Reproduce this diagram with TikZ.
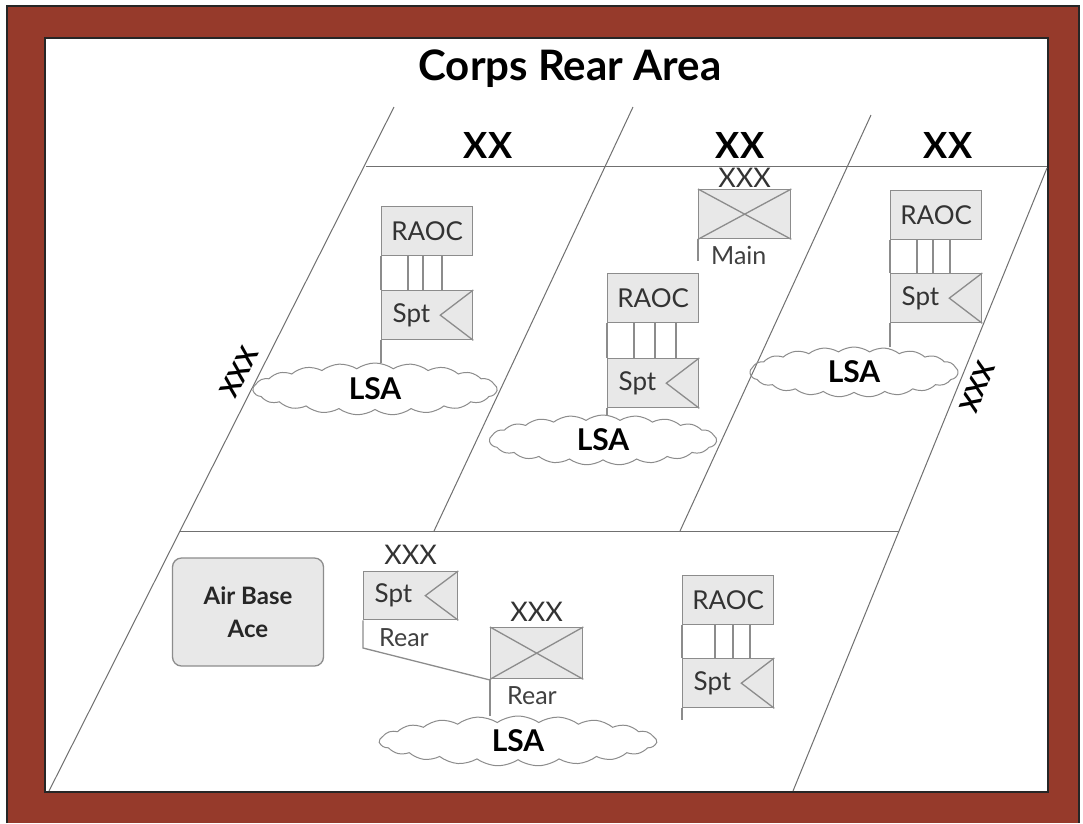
\documentclass[tikz,border=0pt]{standalone}
\usepackage{fontspec}
\setmainfont{Lato}
\usetikzlibrary{shapes.symbols, positioning, calc}

\definecolor{framebrown}{HTML}{963A2B}
\definecolor{boxfill}{HTML}{E8E8E8}
\definecolor{boxline}{HTML}{8C8C8C}
\definecolor{zoneline}{HTML}{707070}

\begin{document}
\begin{tikzpicture}[
    x=1pt, y=-1pt,
    zone/.style={draw=zoneline, line width=1pt},
    boxedge/.style={draw=boxline, line width=1.3pt},
    unitbox/.style={rectangle, draw=boxline, fill=boxfill, line width=1.3pt, minimum width=91pt, minimum height=49pt, inner sep=0pt, anchor=north west, font=\fontsize{26}{28}\selectfont, text=black!80},
    sptbox/.style={unitbox, text width=69pt, inner xsep=11pt, align=left},
    hqbox/.style={unitbox, minimum width=92pt},
    unittext/.style={inner sep=0pt, font=\fontsize{25}{27}\selectfont, text=black!75},
    echelon/.style={inner sep=0pt, font=\fontsize{27}{29}\selectfont, text=black!80},
    titletext/.style={inner sep=0pt, font=\fontsize{42}{46}\bfseries\selectfont},
    divtext/.style={inner sep=0pt, font=\fontsize{36}{40}\bfseries\selectfont},
    corpstext/.style={inner sep=0pt, font=\fontsize{26}{28}\bfseries\selectfont},
    lsacloud/.style={cloud, cloud puffs=21, cloud puff arc=70, cloud ignores aspect, draw=boxline, line width=1pt, inner sep=0pt, font=\fontsize{30}{32}\bfseries\selectfont},
    airbase/.style={rectangle, draw=boxline, fill=boxfill, line width=1.3pt, rounded corners=9pt, minimum width=151pt, minimum height=108pt, align=center, font=\fontsize{24}{33}\bfseries\selectfont, text=black!85}
  ]

  % ============ FRAME ============
  \useasboundingbox (0,0) rectangle (1083,823);
  \fill[white] (0,0) rectangle (1083,823);
  \fill[framebrown] (7,6) rectangle (1079,823);
  \draw[black!85, line width=1.5pt] (7,823) -- (7,6) -- (1079,6) -- (1079,823);
  \draw[black!85, fill=white, line width=2pt] (45,38) rectangle (1048,792);

  \node[titletext, anchor=base] (title) at (570,80) {Corps Rear Area};

  % ============ ZONES ============
  \coordinate (l1top) at (394,107);
  \coordinate (l1mid) at (180,531);
  \coordinate (l1bot) at (49,791);
  \coordinate (l2top) at (633,107);
  \coordinate (l2bot) at (434,531);
  \coordinate (l3top) at (871,115);
  \coordinate (l3bot) at (680,531);
  \coordinate (l4top) at (1047,168);
  \coordinate (l4mid) at (899,531);
  \coordinate (l4bot) at (793,791);
  \coordinate (h1left) at (366,166);
  \coordinate (h1right) at (1047,166);

  \draw[zone] (l1top) -- (l1mid) -- (l1bot);
  \draw[zone] (l2top) -- (l2bot);
  \draw[zone] (l3top) -- (l3bot);
  \draw[zone] (l4top) -- (l4mid) -- (l4bot);
  \draw[zone] (h1left) -- (h1right);
  \draw[zone] (l1mid) -- (l4mid);

  % Echelon labels on the boundaries
  \node[divtext, anchor=base] (xx1) at (488,158) {XX};
  \node[divtext, anchor=base] (xx2) at (740,158) {XX};
  \node[divtext, anchor=base] (xx3) at (948,158) {XX};
  \node[corpstext, rotate=63] (xxxleft) at (239,372) {XXX};
  \node[corpstext, rotate=-112] (xxxright) at (977,387) {XXX};

  % ============ LEFT DIVISION ============
  \node[unitbox] (raoc1) at (381,206) {RAOC};
  \node[sptbox] (spt1) at (381,290) {Spt};
  \draw[boxedge] (raoc1.south west) -- (spt1.north west)
    ($(raoc1.south west)+(27,0)$) -- ($(spt1.north west)+(27,0)$)
    ($(raoc1.south west)+(42,0)$) -- ($(spt1.north west)+(42,0)$)
    ($(raoc1.south west)+(61,0)$) -- ($(spt1.north west)+(61,0)$);
  \draw[boxedge] (spt1.north east) -- ($(spt1.east)+(-33,0)$) -- (spt1.south east);
  \node[lsacloud, minimum width=244pt, minimum height=52pt] (lsa1) at (375,389) {LSA};
  \draw[boxedge] (spt1.south west) -- (spt1.south west |- lsa1.north);

  % ============ CENTER DIVISION ============
  \node[hqbox] (main) at (698,189) {};
  \draw[boxedge] (main.north west) -- (main.south east) (main.north east) -- (main.south west);
  \node[echelon, above=1pt of main] (mainxxx) {XXX};
  \coordinate (mainstaff) at (698,261);
  \draw[boxedge] (main.south west) -- (mainstaff);
  \node[unittext, below right=7pt and 13pt of main.south west] (mainlbl) {Main};

  \node[unitbox] (raoc2) at (607,273) {RAOC};
  \node[sptbox] (spt2) at (607,358) {Spt};
  \draw[boxedge] (raoc2.south west) -- (spt2.north west)
    ($(raoc2.south west)+(27,0)$) -- ($(spt2.north west)+(27,0)$)
    ($(raoc2.south west)+(48,0)$) -- ($(spt2.north west)+(48,0)$)
    ($(raoc2.south west)+(69,0)$) -- ($(spt2.north west)+(69,0)$);
  \draw[boxedge] (spt2.north east) -- ($(spt2.east)+(-33,0)$) -- (spt2.south east);
  \node[lsacloud, minimum width=227pt, minimum height=50pt] (lsa2) at (603,440) {LSA};
  \draw[boxedge] (spt2.south west) -- (spt2.south west |- lsa2.north);

  % ============ RIGHT DIVISION ============
  \node[unitbox] (raoc3) at (890,190) {RAOC};
  \node[sptbox] (spt3) at (890,273) {Spt};
  \draw[boxedge] (raoc3.south west) -- (spt3.north west)
    ($(raoc3.south west)+(27,0)$) -- ($(spt3.north west)+(27,0)$)
    ($(raoc3.south west)+(43,0)$) -- ($(spt3.north west)+(43,0)$)
    ($(raoc3.south west)+(60,0)$) -- ($(spt3.north west)+(60,0)$);
  \draw[boxedge] (spt3.north east) -- ($(spt3.east)+(-33,0)$) -- (spt3.south east);
  \node[lsacloud, minimum width=208pt, minimum height=50pt] (lsa3) at (854,372) {LSA};
  \draw[boxedge] (spt3.south west) -- (spt3.south west |- lsa3.north);

  % ============ CORPS REAR ============
  \node[airbase] (air) at (248,612) {Air Base\\Ace};

  \node[sptbox, minimum width=94pt, minimum height=48pt, text width=72pt] (sptrear) at (363,571) {Spt};
  \draw[boxedge] (sptrear.north east) -- ($(sptrear.east)+(-33,0)$) -- (sptrear.south east);
  \node[echelon, above=6pt of sptrear] (sptxxx) {XXX};
  \node[unittext, below right=8pt and 16pt of sptrear.south west] (sptrearlbl) {Rear};

  \node[hqbox, minimum height=51pt] (rear) at (490,627) {};
  \draw[boxedge] (rear.north west) -- (rear.south east) (rear.north east) -- (rear.south west);
  \node[echelon, above=5pt of rear] (rearxxx) {XXX};
  \node[unittext, below right=7pt and 17pt of rear.south west] (rearlbl) {Rear};

  \coordinate (sptbend) at (363,648);
  \coordinate (rearjoin) at (490,680);
  \draw[boxedge] (sptrear.south west) -- (sptbend) -- (rearjoin);

  \node[lsacloud, minimum width=277pt, minimum height=50pt] (lsa4) at (518,741) {LSA};
  \draw[boxedge] (rear.south west) -- (rear.south west |- lsa4.north);

  \node[unitbox] (raoc4) at (682,575) {RAOC};
  \node[sptbox] (spt4) at (682,658) {Spt};
  \draw[boxedge] (raoc4.south west) -- (spt4.north west)
    ($(raoc4.south west)+(33,0)$) -- ($(spt4.north west)+(33,0)$)
    ($(raoc4.south west)+(51,0)$) -- ($(spt4.north west)+(51,0)$)
    ($(raoc4.south west)+(68,0)$) -- ($(spt4.north west)+(68,0)$);
  \draw[boxedge] (spt4.north east) -- ($(spt4.east)+(-33,0)$) -- (spt4.south east);
  \coordinate (spt4staff) at (682,720);
  \draw[boxedge] (spt4.south west) -- (spt4staff);

\end{tikzpicture}
\end{document}
